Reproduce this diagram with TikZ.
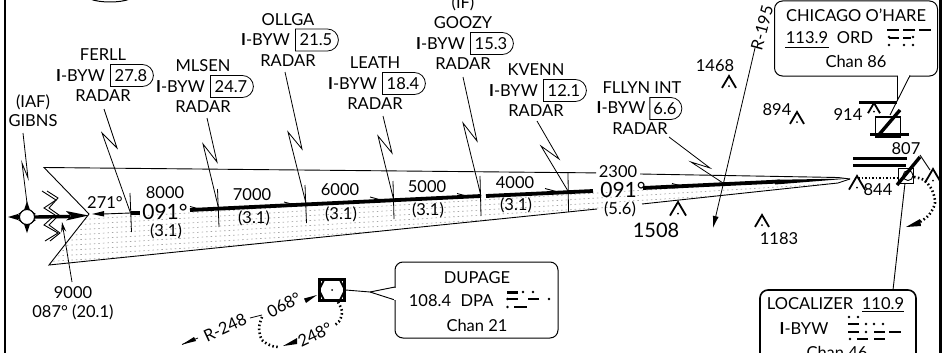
\documentclass[tikz,border=0pt]{standalone}
\usepackage{fontspec}
\setmainfont{Lato}
\usetikzlibrary{shapes.misc,arrows.meta}
\tikzset{
 lab/.style={inner sep=0pt,font=\fontsize{16.5}{16.5}\selectfont},
 biglab/.style={inner sep=0pt,font=\fontsize{21}{21}\selectfont},
 medlab/.style={inner sep=0pt,font=\fontsize{20}{20}\selectfont},
 dmebox/.style={draw,line width=.8pt,rounded rectangle,rounded rectangle left arc=none,minimum width=43pt,minimum height=22pt,inner sep=0pt,font=\fontsize{16.5}{16.5}\selectfont},
 infobox/.style={draw,line width=1pt,rounded corners=8pt,fill=white},
 feeder/.style={line width=.8pt},
 track/.style={line width=3.8pt},
 fixtick/.style={line width=.8pt},
 obs/.style={line width=1.8pt},
 curve/.style={line width=2.6pt,dash pattern=on 1.5pt off 2.5pt},
 morse/.style={line width=2.8pt},
 thinarrow/.style={line width=.8pt,-{Stealth[length=10pt,width=5pt]}},
 solidtip/.style={line width=.8pt,-{Latex[length=12pt,width=6pt]}},
}
\newcommand{\Obst}[3]{% top x, top y, half-size
 \draw[obs] (#1-#3,#2+1.7*#3) -- (#1,#2) -- (#1+#3,#2+1.7*#3);
 \fill (#1,#2+1.45*#3) circle (1pt);}
\newcommand{\Chev}[2]{\draw[line width=.9pt] (#1-13,#2-3.5) -- (#1,#2) -- (#1-13,#2+1);}
\newcommand{\Fix}[6]{% id, name, unused, box x, y-of-name, dist
 \node[lab] (n#1) at (#2,#5) {#3};
 \node[lab] (i#1) at (#2-22.5,#5+20.5) {\textbf{I}-BYW};
 \node[dmebox] (d#1) at (#2+28,#5+20.5) {#6};
 \node[lab] (r#1) at (#2,#5+41) {RADAR};}
\begin{document}
\begin{tikzpicture}[x=1pt,y=-1pt]
\clip (0,0) rectangle (942,353);
\fill[white] (0,0) rectangle (942,353);
% frame
\draw[line width=2.2pt] (5,0) -- (5,353);
\draw[line width=2.2pt] (940.5,0) -- (940.5,353);
\draw[line width=1pt] (90,-1) .. controls (100,3) and (120,3) .. (130,-1);
% stipple
\begin{scope}
\clip (89,214) -- (49,265) -- (597,209) -- (642,204) -- (838,183) -- (850,179) -- (643,188) -- (190,210) -- cycle;
\foreach \k in {0,...,11}
 \draw[gray!70,line width=.7pt,dash pattern=on 1.5pt off 3pt] (40,222+\k*5) -- (860,172+\k*5);
\end{scope}
% feather outline
\coordinate (ftl) at (44,167.5);
\coordinate (fap) at (89,214);
\coordinate (fbl) at (49,265);
\coordinate (ftip) at (850,179);
\draw[line width=.9pt] (596,172.9) -- (ftl) -- (fap) -- (fbl) -- (597,209);
\draw[line width=.9pt] (640,174) -- (838,177.5) -- (ftip);
\draw[line width=.9pt] (642,204) -- (838,183) -- (ftip);
% IAF fix
\node[draw,circle,line width=1pt,minimum size=15pt,inner sep=0pt,fill=white] (iaf) at (27,217) {};
\fill (27,201) -- (30,210) -- (36,214) -- (27,217) -- (18,214) -- (24,210) -- cycle;
\fill (27,233) -- (30,224) -- (36,220) -- (27,217) -- (18,220) -- (24,224) -- cycle;
\fill (8,217) -- (18,214) -- (20,217) -- (18,220) -- cycle;
\node[draw,circle,line width=1pt,minimum size=15pt,inner sep=0pt,fill=white] at (27,217) {};
\draw[line width=3.4pt] (iaf.east) -- (70,216.5);
\fill (88.5,215.5) -- (66,211) -- (71,216) -- (66,220.5) -- cycle;
% zigzag break
\draw[line width=.9pt] (42,191) -- (56,200) -- (44,208) -- (55,215) -- (44,225) -- (58,233) -- (45,241);
\draw[line width=.9pt] (47,191) -- (58,198) -- (49,208) -- (59,215) -- (49,225) -- (60,233) -- (50,241);
% track
\coordinate (fx1) at (130.5,213);
\coordinate (fx2) at (218.5,208);
\coordinate (fx3) at (306,203.5);
\coordinate (fx4) at (393.5,199);
\coordinate (fx5) at (481,196);
\coordinate (fx6) at (568,191);
\coordinate (fx7) at (723,183);
\coordinate (fx0) at (27,203);
\draw[line width=.9pt] (103,214) -- (fx1);
\fill (92,214) -- (104,211) -- (104,216.5) -- cycle;
\draw[track] (fx1) -- (140,213);
\draw[track] (190,210) -- (fx5);
\draw[track] (486,196) -- (593,191);
\draw[track] (643,188) -- (780,181.5);
\fill (775,179.8) -- (850,178.5) -- (775,184.5) -- cycle;
\Chev{203}{210}\Chev{297}{205.5}\Chev{383}{200.5}\Chev{470}{197}\Chev{558}{192}\Chev{685}{187}
% fix ticks
\draw[fixtick] (130,193) -- (131.5,232);
\draw[fixtick] (217.5,189) -- (219,227);
\draw[fixtick] (305,185) -- (306.5,223);
\draw[fixtick] (393,181) -- (394,219);
\draw[fixtick] (480,176) -- (481,216);
\draw[fixtick] (568,173) -- (568.5,212);
% labels of fixes
\Fix{F}{103}{FERLL}{0}{55}{27.8}
\Fix{M}{203}{MLSEN}{0}{66}{24.7}
\Fix{O}{288}{OLLGA}{0}{19.5}{21.5}
\Fix{L}{375}{LEATH}{0}{63}{18.4}
\Fix{G}{463}{GOOZY}{0}{23}{15.3}
\Fix{K}{536}{KVENN}{0}{70}{12.1}
\node[lab] (nY) at (642,88) {FLLYN INT};
\node[lab] (iY) at (621,108) {\textbf{I}-BYW};
\node[dmebox,minimum width=32pt] (dY) at (665,108.5) {6.6};
\node[lab] (rY) at (640,129) {RADAR};
\node[lab] (ifl) at (463,3) {(IF)};
\node[lab] (iafl) at (33,102) {(IAF)};
\node[lab] (gib) at (33,121) {GIBNS};
% feeders
\coordinate (sF) at (104,109);\coordinate (sM) at (207,118);\coordinate (sO) at (285,72);
\coordinate (sL) at (383,116);\coordinate (sG) at (463,77);\coordinate (sK) at (537,121);
\coordinate (sY) at (669,137);\coordinate (sI) at (23,133);
\draw[feeder] (sI) -- (28,178) -- (22,163) -- (fx0);
\draw[feeder] (sF) -- (117,148) -- (102,133) -- (fx1);
\draw[feeder] (sM) -- (217,162) -- (203,144) -- (fx2);
\draw[feeder] (sO) -- (302,149) -- (288,132) -- (fx3);
\draw[feeder] (sL) -- (392,153) -- (378,136) -- (fx4);
\draw[feeder] (sG) -- (477,141) -- (463,123) -- (fx5);
\draw[feeder] (sK) -- (559,159) -- (541,146) -- (fx6);
\draw[feeder] (sY) -- (710,168) -- (691,162) -- (fx7);
% track labels
\node[lab] at (165,193) {8000};
\node[biglab] at (165,212) {091°};
\node[lab] at (166,231) {(3.1)};
\node[lab] at (105,203) {271°};
\node[lab] at (252,195) {7000};
\node[lab] at (254,218) {(3.1)};
\node[lab] at (340,190) {6000};
\node[lab] at (341,214) {(3.1)};
\node[lab] at (427,187) {5000};
\node[lab] at (428,210) {(3.1)};
\node[lab] at (515,183) {4000};
\node[lab] at (516,205) {(3.1)};
\node[lab] at (618,172) {2300};
\node[biglab] at (623,190) {091°};
\node[lab] at (620,209) {(5.6)};
\node[medlab] at (656,230) {1508};
\node[lab] (alt) at (73,293) {9000};
\node[lab] at (73,312) {087° (20.1)};
\coordinate (a9) at (72,282);\coordinate (a9t) at (62,222);
\draw[thinarrow] (a9) -- (a9t);
% obstacles
\Obst{678}{202}{8}
\Obst{729}{76}{7}
\node[lab] at (715,66) {1468};
\Obst{762}{215}{7}
\node[lab] at (779,239) {1183};
\Obst{797}{112}{7}
\node[lab] at (777,110) {894};
\Obst{874}{103}{6}
\node[lab] at (848,115) {914};
\Obst{857}{176}{8}
\node[lab] at (878,190) {844};
\node[lab] at (906,149) {807};
\Obst{933}{169}{8}
% R-195
\node[lab,rotate=75] (r195) at (762,28) {R-195};
\coordinate (r195s) at (755,48);\coordinate (r195t) at (713,228);
\draw[solidtip] (r195s) -- (r195t);
% ORD VORTAC
\node[draw,line width=1.6pt,minimum width=25pt,minimum height=20pt,inner sep=0pt] (ord) at (888,127) {};
\draw[line width=3pt] (859,102) -- (897,102);
\draw[line width=3pt] (870,134) -- (909,134);
\draw[line width=3.4pt] (877,137) -- (900,110);
% localizer
\draw[line width=3pt] (853,158.5) -- (907,158.5);
\draw[line width=3pt] (853,165) -- (906,165);
\node[draw,line width=1pt,minimum width=15pt,minimum height=15pt,inner sep=0pt] (loc) at (905.5,175.5) {};
\draw[line width=.9pt] (908,175.5) circle (5pt);
\draw[line width=3.4pt] (897,185) -- (920,157);
\draw[line width=2pt,dash pattern=on 1.5pt off 2pt] (858,178) -- (897,178);
\draw[line width=.9pt] (920,155) -- (930,170);
\draw[curve] plot[smooth] coordinates {(914,177) (924,180) (932,190) (935,203) (929,215) (920,222)};
\fill (906,227) -- (920,219) -- (921,226) -- cycle;
% DUPAGE VOR
\node[draw,line width=2.2pt,minimum width=25pt,minimum height=21pt,inner sep=0pt] (dpa) at (332,290) {};
\draw[line width=1.8pt] (324,280) -- (340,280) -- (345,290) -- (340,300) -- (324,300) -- (319,290) -- cycle;
\fill (332,290) circle (1pt);
\node[lab,rotate=27] (t68) at (284,305) {068°};
\node[lab,rotate=25] (t248) at (315,335) {248°};
\node[lab,rotate=25] (tr) at (225,328) {R-248};
\fill (317,295) -- (304,298.5) -- (306,303) -- cycle;
\coordinate (r248s) at (198,338);\coordinate (r248t) at (182,344.5);
\draw[line width=.8pt] (r248s) -- (r248t);
\fill (182,344.5) -- (194,337) -- (196,341) -- cycle;
\draw[line width=.8pt] (250,318) -- (262,315);
\draw[curve] plot[smooth] coordinates {(262,317) (259,328) (262,340) (272,346) (280,347)};
\fill (283,346) -- (297,338) -- (297,344) -- cycle;
\draw[curve] plot[smooth] coordinates {(338,302) (342,311) (340,320) (335,325)};
% DUPAGE box
\node[infobox,minimum width=163pt,minimum height=76pt] (bd) at (476.5,300) {};
\coordinate (pd) at (370,292);
\draw[line width=.9pt] (dpa.east) -- (pd) -- (395,287);
\draw[line width=.9pt] (pd) -- (395,300);
\fill[white] (394.2,287.5) rectangle (396.5,299.5);
\node[lab] at (477,278) {DUPAGE};
\node[lab] at (430,301) {108.4};
\node[lab] at (477,301) {DPA};
\node[lab] at (477,325) {Chan 21};
\draw[morse] (507,292.5) -- (518,292.5) (507,299) -- (518,299) (528,299) -- (539,299) (514,307) -- (527,307);
\fill (507.5,299) circle (1.3pt) (507.5,307) circle (1.3pt) (523,292) circle (1.3pt) (533,292) circle (1.3pt) (549,299) circle (1.3pt);
% CHICAGO box
\node[infobox,minimum width=163pt,minimum height=75pt] (bc) at (856,38.5) {};
\coordinate (pc1) at (897,100);\coordinate (pc2) at (890,115);
\draw[line width=.9pt] (897,75.5) -- (pc1);
\draw[line width=.9pt] (910,75.5) -- (pc2);
\fill[white] (898,74) rectangle (909,77);
\node[lab] at (856,15) {CHICAGO O’HARE};
\node[lab] (f113) at (807,38) {113.9};
\draw[line width=.8pt] (785,47) -- (829,47);
\node[lab] at (855,38) {ORD};
\draw[morse] (887,30) -- (899,30) (903,30) -- (915,30) (919,30) -- (931,30) (889,38) -- (899,38) (903,38) -- (911,38);
\fill (889,37) circle (1.3pt) (913,37) circle (1.3pt) (889,45) circle (1.3pt) (904,45) circle (1.3pt) (913,45) circle (1.3pt);
\node[lab] at (856,61) {Chan 86};
% LOCALIZER box
\node[infobox,line width=1.6pt,minimum width=156pt,minimum height=90pt] (bl) at (838,335) {};
\coordinate (lt) at (893,290);
\draw[line width=.9pt] (905,183) -- (lt);
\node[lab] at (810,304) {LOCALIZER};
\node[lab] at (883,304) {110.9};
\draw[line width=.8pt] (862,311) -- (904,311);
\node[lab] at (804,329) {\textbf{I}-BYW};
\draw[morse] (848,324) -- (859,324) (848,332) -- (859,332) (874,332) -- (885,332) (889,332) -- (901,332) (857,339) -- (868,339) (874,339) -- (885,339);
\fill (849,317) circle (1.3pt) (858,317) circle (1.3pt) (866,324) circle (1.3pt) (874,324) circle (1.3pt) (883,324) circle (1.3pt) (866,332) circle (1.3pt) (850,339) circle (1.3pt);
\node[lab] at (837,352) {Chan 46};
\end{tikzpicture}
\end{document}
